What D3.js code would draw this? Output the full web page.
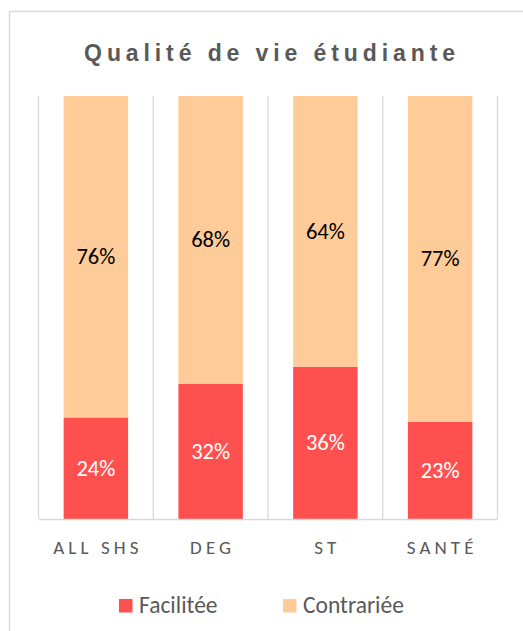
<!DOCTYPE html>
<html>
<head>
<meta charset="utf-8">
<script src="https://cdn.jsdelivr.net/npm/d3@7"></script>
<style>
  html, body { margin: 0; padding: 0; background: #fff; }
  svg { display: block; }
</style>
</head>
<body>
<svg id="chart" width="523" height="631"></svg>
<script>
const title = "Qualité de vie étudiante";
const categories = ["ALL SHS", "DEG", "ST", "SANTÉ"];
const seriesNames = ["Facilitée", "Contrariée"];
const facilitee = [24, 32, 36, 23];
const contrariee = [76, 68, 64, 77];
const seriesColors = ["#FF5050", "#FFCC99"];
const labelColors = ["#FFFFFF", "#000000"];

const svg = d3.select("#chart");

// chart border
svg.append("rect").attr("x", 9.5).attr("y", 11.5).attr("width", 600).attr("height", 700)
  .attr("fill", "#fff").attr("stroke", "#D9D9D9").attr("stroke-width", 1.5);

const margin = { left: 38.5, right: 497.5, top: 96, bottom: 519 };
const x = d3.scaleBand().domain(categories).range([margin.left, margin.right]).padding(0);
const y = d3.scaleLinear().domain([0, 100]).range([margin.bottom, margin.top]);
const barW = x.bandwidth() / 1.78;

// vertical gridlines at category boundaries
const bounds = categories.map(c => x(c)).concat([margin.right]);
svg.append("g").selectAll("line").data(bounds).join("line")
  .attr("x1", d => d).attr("x2", d => d)
  .attr("y1", margin.top).attr("y2", margin.bottom)
  .attr("stroke", "#D9D9D9").attr("stroke-width", 1.3);

// stacked data
const table = categories.map((c, i) => ({ cat: c, "Facilitée": facilitee[i], "Contrariée": contrariee[i] }));
const stack = d3.stack().keys(seriesNames)(table);

const g = svg.append("g");
stack.forEach((layer, si) => {
  g.append("g").selectAll("rect").data(layer).join("rect")
    .attr("x", d => x(d.data.cat) + (x.bandwidth() - barW) / 2)
    .attr("width", barW)
    .attr("y", d => y(d[1]))
    .attr("height", d => y(d[0]) - y(d[1]))
    .attr("fill", seriesColors[si]);
});
stack.forEach((layer, si) => {
  g.append("g").selectAll("text").data(layer).join("text")
    .attr("x", d => x(d.data.cat) + x.bandwidth() / 2)
    .attr("y", d => (y(d[0]) + y(d[1])) / 2)
    .attr("dy", "0.33em")
    .attr("text-anchor", "middle")
    .attr("font-family", "Carlito, Calibri, 'Open Sans', sans-serif")
    .attr("font-size", 22.5)
    .attr("fill", labelColors[si])
    .text(d => (d[1] - d[0]) + "%");
});

// x axis
const xAxis = d3.axisBottom(x).tickSize(0).tickPadding(0);
const ax = svg.append("g").attr("transform", `translate(0,${margin.bottom})`).call(xAxis);
ax.select(".domain").attr("stroke", "#D9D9D9").attr("stroke-width", 1.5);
ax.selectAll("text")
  .attr("y", 35).attr("dy", 0)
  .attr("font-family", "Carlito, Calibri, 'Open Sans', sans-serif")
  .attr("font-size", 19)
  .attr("letter-spacing", "4.1px")
  .attr("fill", "#595959")
  .attr("dx", "2px");

// title
svg.append("text")
  .attr("x", 272).attr("y", 61)
  .attr("text-anchor", "middle")
  .attr("font-family", "'Liberation Sans', Arial, sans-serif")
  .attr("font-weight", "bold")
  .attr("font-size", 23)
  .attr("letter-spacing", "4.9px")
  .attr("fill", "#595959")
  .text(title);

// legend
const legendX = [119, 283];
const leg = svg.append("g");
seriesNames.forEach((name, i) => {
  leg.append("rect").attr("x", legendX[i]).attr("y", 599).attr("width", 13.5).attr("height", 13.5)
    .attr("fill", seriesColors[i]);
  leg.append("text").attr("x", legendX[i] + 20).attr("y", 612.5)
    .attr("font-family", "Carlito, Calibri, 'Open Sans', sans-serif")
    .attr("font-size", 23.5)
    .attr("fill", "#595959")
    .text(name);
});
</script>
</body>
</html>
